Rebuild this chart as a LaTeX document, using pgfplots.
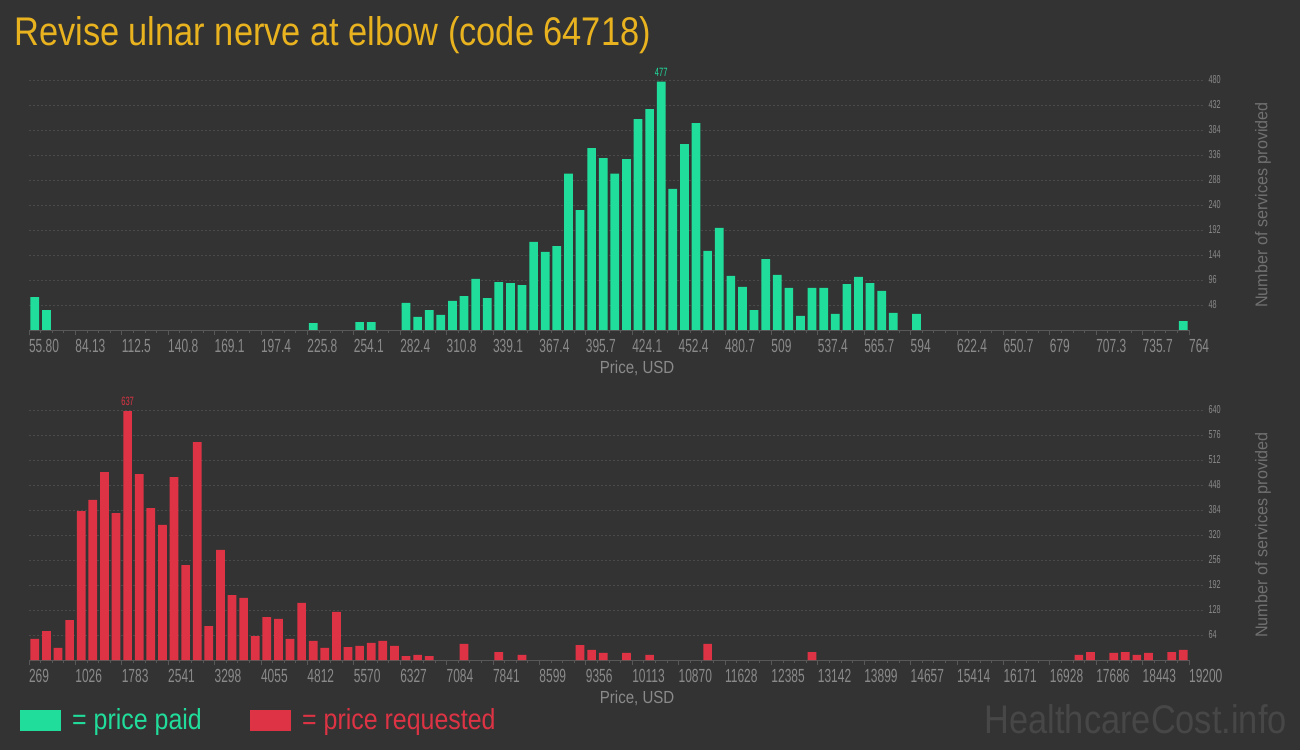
\documentclass[border=0pt]{standalone}
\usepackage{pgfplots}
\pgfplotsset{compat=1.18}
\usepackage{fontspec}
\setmainfont{Liberation Sans}
\newfontfamily\condfont[FakeStretch=0.86]{Liberation Sans}
\newfontfamily\tickfont[FakeStretch=0.63]{Liberation Sans}
\newfontfamily\labfont[FakeStretch=0.95]{Liberation Sans}

\definecolor{bg}{HTML}{333333}
\definecolor{pgreen}{HTML}{21DD9B}
\definecolor{pred}{HTML}{DD3344}
\definecolor{ptitle}{HTML}{E9B31F}
\definecolor{ticktxt}{HTML}{8A8A8A}
\definecolor{labtxt}{HTML}{707070}
\definecolor{gridc}{HTML}{4A4A4A}
\definecolor{basec}{HTML}{585858}
\definecolor{wmark}{HTML}{474747}

% shared look of both histograms (100 bins each, plotted at bin index)
\pgfplotsset{
  hcost/.style={
    scale only axis, width=1174pt, height=250pt,
    xmin=0, xmax=101.2, ymin=0,
    axis x line*=bottom, axis y line*=right,
    x axis line style={color=basec, line width=0.8pt, shorten >=14pt},
    y axis line style={draw=none},
    xtick={0,4,...,100}, minor x tick num=3,
    xtick align=outside,
    major x tick style={color=basec, line width=0.8pt},
    minor x tick style={color=basec, line width=0.8pt},
    major tick length=5pt, minor tick length=3pt,
    ytick style={draw=none},
    ymajorgrids,
    grid style={color=gridc, line width=0.8pt, dash pattern=on 2pt off 2pt},
    /pgf/number format/assume math mode=true,
    xticklabel style={font=\tickfont\fontsize{19}{20}\selectfont, color=ticktxt,
      anchor=north west, xshift=-3.5pt, yshift=-1pt},
    yticklabel style={font=\tickfont\fontsize{11.5}{12}\selectfont, color=ticktxt, anchor=west, xshift=2pt},
    xlabel={Price, USD},
    xlabel style={font=\condfont\fontsize{17.5}{18}\selectfont, color=ticktxt,
      at={(axis description cs:0.518,0)}, anchor=center, yshift=-38pt},
    ylabel={Number of services provided},
    every axis y label/.style={at={(axis description cs:1.0511,0.5)}, rotate=90, anchor=center,
      font=\labfont\fontsize{17}{18}\selectfont, color=labtxt},
    clip=false,
  }
}

\begin{document}
\begin{tikzpicture}
\fill[bg] (0,0) rectangle (1300pt,750pt);

% title
\node[anchor=base west, inner sep=0pt, text=ptitle, font=\condfont\fontsize{40}{44}\selectfont]
  at (14pt,704pt) {Revise ulnar nerve at elbow (code 64718)};

% top: price paid
\begin{axis}[hcost, at={(29pt,420pt)}, anchor=south west,
  ymax=480, ytick={48,96,...,480},
  xticklabels={55.80,84.13,112.5,140.8,169.1,197.4,225.8,254.1,282.4,310.8,339.1,367.4,395.7,424.1,452.4,480.7,509,537.4,565.7,594,622.4,650.7,679,707.3,735.7,764}]
\addplot[ybar, bar width=8.7pt, bar shift=0pt, fill=pgreen, draw=none] coordinates {
  (0.5,63) (1.5,38) (24.5,13) (28.5,15) (29.5,15)
  (32.5,52) (33.5,25) (34.5,38) (35.5,29) (36.5,56) (37.5,65) (38.5,98) (39.5,61)
  (40.5,92) (41.5,90) (42.5,86) (43.5,169) (44.5,150) (45.5,161) (46.5,300) (47.5,230)
  (48.5,349) (49.5,330) (50.5,300) (51.5,328) (52.5,405) (53.5,424) (54.5,477) (55.5,271)
  (56.5,357) (57.5,397) (58.5,152) (59.5,196) (60.5,104) (61.5,83) (62.5,38) (63.5,136)
  (64.5,106) (65.5,81) (66.5,27) (67.5,81) (68.5,81) (69.5,31) (70.5,88) (71.5,102)
  (72.5,90) (73.5,75) (74.5,33) (76.5,31) (99.5,17)
};
\addplot[draw=none, mark=none, nodes near coords, point meta=explicit symbolic,
  nodes near coords style={font=\tickfont\fontsize{12}{12}\selectfont, color=pgreen, anchor=south, yshift=2pt}]
  coordinates {(54.5,477)[477]};
\end{axis}

% bottom: price requested
\begin{axis}[hcost, at={(29pt,90pt)}, anchor=south west,
  ymax=640, ytick={64,128,...,640},
  xticklabels={269,1026,1783,2541,3298,4055,4812,5570,6327,7084,7841,8599,9356,10113,10870,11628,12385,13142,13899,14657,15414,16171,16928,17686,18443,19200}]
\addplot[ybar, bar width=8.7pt, bar shift=0pt, fill=pred, draw=none] coordinates {
  (0.5,54) (1.5,74) (2.5,31) (3.5,102) (4.5,381) (5.5,410) (6.5,481) (7.5,376)
  (8.5,637) (9.5,476) (10.5,389) (11.5,346) (12.5,468) (13.5,243) (14.5,558) (15.5,87)
  (16.5,282) (17.5,166) (18.5,159) (19.5,61) (20.5,110) (21.5,105) (22.5,54) (23.5,146)
  (24.5,49) (25.5,31) (26.5,123) (27.5,33) (28.5,36) (29.5,44) (30.5,49) (31.5,36)
  (32.5,10) (33.5,13) (34.5,10) (37.5,41) (40.5,20) (42.5,13) (47.5,38) (48.5,26)
  (49.5,18) (51.5,18) (53.5,13) (58.5,41) (67.5,20) (90.5,13) (91.5,20) (93.5,18)
  (94.5,20) (95.5,13) (96.5,18) (98.5,20) (99.5,26)
};
\addplot[draw=none, mark=none, nodes near coords, point meta=explicit symbolic,
  nodes near coords style={font=\tickfont\fontsize{12}{12}\selectfont, color=pred, anchor=south, yshift=2pt}]
  coordinates {(8.5,637)[637]};
\end{axis}

% legend
\fill[pgreen] (20pt,19pt) rectangle (61pt,40pt);
\node[anchor=base west, inner sep=0pt, text=pgreen, font=\condfont\fontsize{29}{30}\selectfont]
  at (72pt,21pt) {= price paid};
\fill[pred] (250pt,19pt) rectangle (291pt,40pt);
\node[anchor=base west, inner sep=0pt, text=pred, font=\condfont\fontsize{29}{30}\selectfont]
  at (302pt,21pt) {= price requested};

% watermark
\node[anchor=base east, inner sep=0pt, text=wmark, font=\condfont\fontsize{40}{44}\selectfont]
  at (1287pt,17pt) {HealthcareCost.info};
\end{tikzpicture}
\end{document}
